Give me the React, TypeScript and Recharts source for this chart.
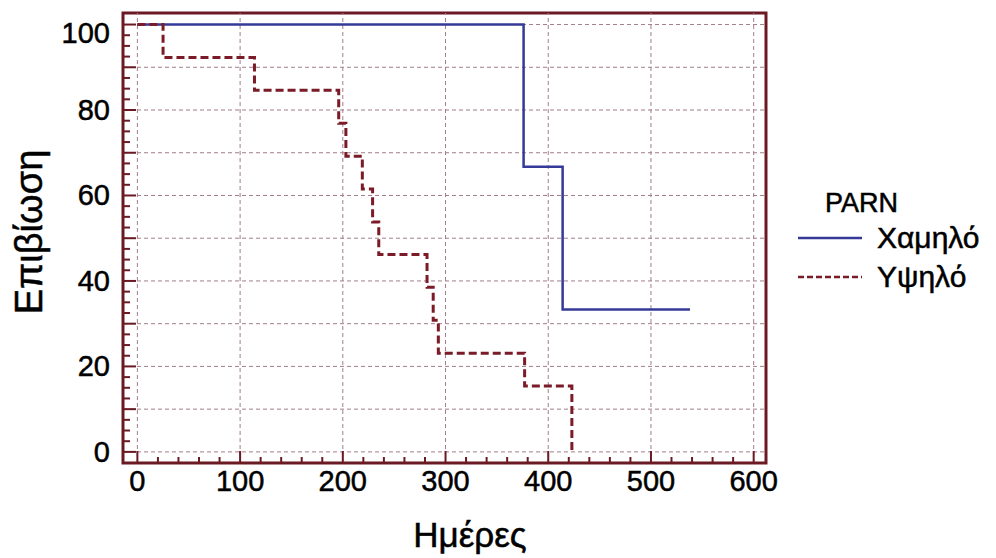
import { Legend, Line, LineChart, ReferenceArea, ReferenceLine, XAxis, YAxis } from "recharts";

const FONT = '"Liberation Sans", Arial, Helvetica, sans-serif';
const FRAME = "#6b1a24";
const GRID = "#a27d8a";
const LOW_COLOR = "#353a98";
const HIGH_COLOR = "#7a1b27";
const INK = { fill: "#000", stroke: "#000", strokeWidth: 0.5 };

// Kaplan-Meier steps
const lowDays = [0, 376, 414, 538];
const lowSurvival = [100, 66.7, 33.3, 33.3];
const highDays = [0, 25, 114, 196, 203, 219, 229, 235, 282, 288, 293, 377, 423];
const highSurvival = [100, 92.3, 84.6, 76.9, 69.2, 61.5, 53.8, 46.2, 38.5, 30.8, 23.1, 15.4, 0];

const seriesNames = ["Χαμηλό", "Υψηλό"];
const seriesColors = [LOW_COLOR, HIGH_COLOR];
const legendDash = [undefined, "6 3"];
const legendTitle = "PARN";
const xTitle = "Ημέρες";
const yTitle = "Επιβίωση";

const xDomain = [-14, 612];
const yDomain = [-2.6, 102.7];

const xTicks = [
  0, 20, 40, 60, 80, 100, 120, 140, 160, 180, 200, 220, 240, 260, 280, 300,
  320, 340, 360, 380, 400, 420, 440, 460, 480, 500, 520, 540, 560, 580, 600,
];
const xLabelTicks = [0, 100, 200, 300, 400, 500, 600];
const xGrid = [0, 100, 200, 300, 400, 500, 600];

const yTicks = [
  0, 2.5, 5, 7.5, 10, 12.5, 15, 17.5, 20, 22.5, 25, 27.5, 30, 32.5, 35, 37.5, 40,
  42.5, 45, 47.5, 50, 52.5, 55, 57.5, 60, 62.5, 65, 67.5, 70, 72.5, 75, 77.5, 80,
  82.5, 85, 87.5, 90, 92.5, 95, 97.5, 100,
];
const yMajorTicks = [0, 10, 20, 30, 40, 50, 60, 70, 80, 90, 100];
const yLabelTicks = [0, 20, 40, 60, 80, 100];
const yGrid = [0, 10, 20, 30, 40, 50, 60, 70, 80, 90, 100];

const lowData = lowDays.map((t, i) => ({ t, s: lowSurvival[i] }));
const highData = highDays.map((t, i) => ({ t, s: highSurvival[i] }));

function XTick(props: any) {
  const { x, y, payload } = props;
  const v = payload.value;
  const major = xLabelTicks.includes(v);
  return (
    <g>
      <line x1={x} x2={x} y1={y} y2={y - (major ? 12 : 6)} stroke={FRAME} strokeWidth={2} />
      {major && (
        <text x={x} y={y + 28} textAnchor="middle" fontSize={29} fontFamily={FONT} {...INK}>
          {v}
        </text>
      )}
    </g>
  );
}

function YTick(props: any) {
  const { x, y, payload } = props;
  const v = payload.value;
  const major = yMajorTicks.includes(v);
  const labelled = yLabelTicks.includes(v);
  // the top label sits a little below its tick in the original
  const shift = v === 100 ? 8 : 0;
  return (
    <g>
      <line x1={x} x2={x + (major ? 13 : 7)} y1={y} y2={y} stroke={FRAME} strokeWidth={2} />
      {labelled && (
        <text x={x - 13} y={y + 10 + shift} textAnchor="end" fontSize={29} fontFamily={FONT} {...INK}>
          {v}
        </text>
      )}
    </g>
  );
}

function LegendBox() {
  return (
    <svg width={200} height={120} style={{ overflow: "visible" }}>
      <text x={30} y={32} fontSize={27} fontFamily={FONT} {...INK}>
        {legendTitle}
      </text>
      {seriesNames.map((name, i) => {
        const cy = 58 + i * 39;
        return (
          <g key={name}>
            <line
              x1={3}
              x2={67}
              y1={cy}
              y2={cy}
              stroke={seriesColors[i]}
              strokeWidth={2.5}
              strokeDasharray={legendDash[i]}
            />
            <text x={82} y={cy + 10} fontSize={30} fontFamily={FONT} {...INK}>
              {name}
            </text>
          </g>
        );
      })}
    </svg>
  );
}

export default function App() {
  return (
    <div style={{ position: "absolute", left: 0, top: 0, width: 996, height: 558, background: "#fff", fontFamily: FONT }}>
      <LineChart width={996} height={558} margin={{ top: 13, right: 230, bottom: 0, left: 0 }}>
        <XAxis
          type="number"
          dataKey="t"
          domain={xDomain}
          allowDataOverflow
          ticks={xTicks}
          interval={0}
          tick={<XTick />}
          tickLine={false}
          tickSize={0}
          tickMargin={0}
          axisLine={false}
          height={95}
          label={() => (
            <text x={470} y={547} textAnchor="middle" fontSize={35} fontFamily={FONT} {...INK}>
              {xTitle}
            </text>
          )}
        />
        <YAxis
          type="number"
          dataKey="s"
          domain={yDomain}
          allowDataOverflow
          ticks={yTicks}
          interval={0}
          tick={<YTick />}
          tickLine={false}
          tickSize={0}
          tickMargin={0}
          axisLine={false}
          width={123}
          label={() => (
            <text
              x={42}
              y={232}
              textAnchor="middle"
              fontSize={38}
              fontFamily={FONT}
              {...INK}
              transform="rotate(-90 42 232)"
            >
              {yTitle}
            </text>
          )}
        />
        {yGrid.map((v) => (
          <ReferenceLine key={`h${v}`} y={v} stroke={GRID} strokeWidth={1} strokeDasharray="4 3" />
        ))}
        {xGrid.map((v) => (
          <ReferenceLine key={`v${v}`} x={v} stroke={GRID} strokeWidth={1} strokeDasharray="4 3" />
        ))}
        <Line
          data={lowData}
          dataKey="s"
          name={seriesNames[0]}
          type="stepAfter"
          stroke={LOW_COLOR}
          strokeWidth={2.5}
          dot={false}
          isAnimationActive={false}
        />
        <Line
          data={highData}
          dataKey="s"
          name={seriesNames[1]}
          type="stepAfter"
          stroke={HIGH_COLOR}
          strokeWidth={3}
          strokeDasharray="8 4"
          dot={false}
          isAnimationActive={false}
        />
        <ReferenceArea
          x1={xDomain[0]}
          x2={xDomain[1]}
          y1={yDomain[0]}
          y2={yDomain[1]}
          fill="none"
          stroke={FRAME}
          strokeWidth={3}
        />
        <Legend
          layout="horizontal"
          verticalAlign="middle"
          align="center"
          width={200}
          content={<LegendBox />}
          wrapperStyle={{ left: 795, top: 180, width: 200, height: 120 }}
        />
      </LineChart>
    </div>
  );
}
